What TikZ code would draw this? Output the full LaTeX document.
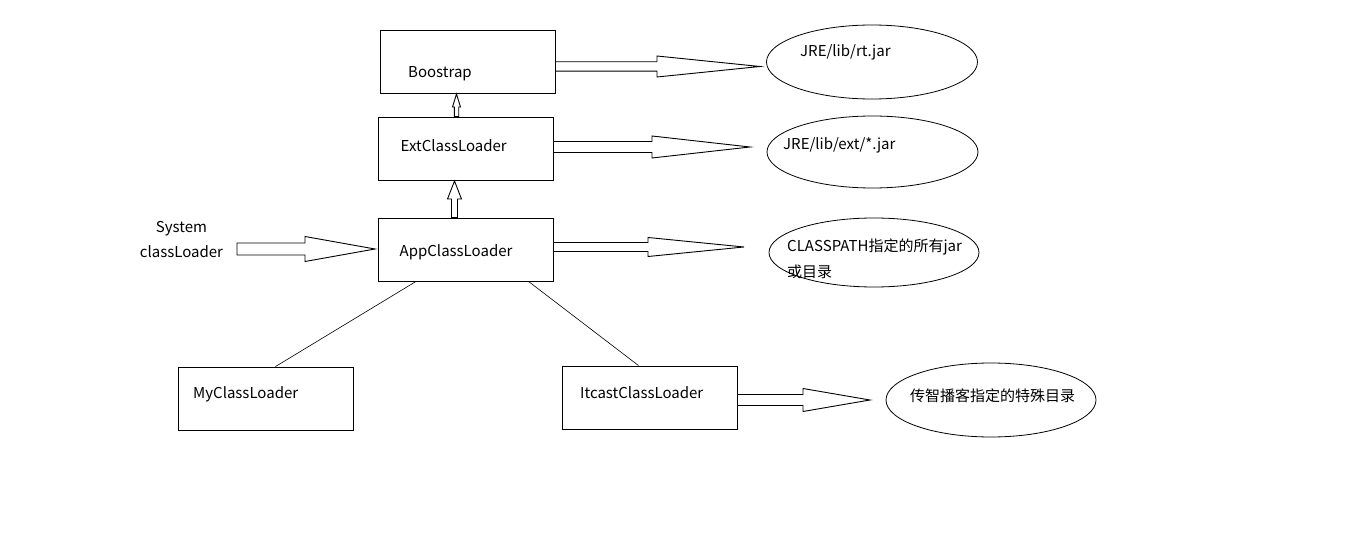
\documentclass[tikz,border=0pt]{standalone}
\usepackage{fontspec}
\setmainfont{Noto Sans CJK SC}
\usepackage{tikz}
\usetikzlibrary{calc,shapes.geometric}

% hollow block arrows, start node, tip, head length, shaft half, head half
\newcommand{\harrow}[5]{%
  \draw[blockarr] let \p1=(#1), \p2=(#2) in
    (\x1,\y2+#4) -- (\x2-#3,\y2+#4) -- (\x2-#3,\y2+#5) -- (\x2,\y2)
    -- (\x2-#3,\y2-#5) -- (\x2-#3,\y2-#4) -- (\x1,\y2-#4) -- cycle;}
\newcommand{\varrow}[5]{%
  \draw[blockarr] let \p1=(#1), \p2=(#2) in
    (\x2+#4,\y1) -- (\x2+#4,\y2-#3) -- (\x2+#5,\y2-#3) -- (\x2,\y2)
    -- (\x2-#5,\y2-#3) -- (\x2-#4,\y2-#3) -- (\x2-#4,\y1) -- cycle;}

\begin{document}
\begin{tikzpicture}
  [x=1pt, y=-1pt,
   loader/.style={draw, line width=0.9pt, minimum width=175pt, minimum height=63pt, inner sep=0},
   jar/.style={draw, ellipse, line width=0.8pt, inner sep=0},
   txt/.style={inner sep=0, anchor=base west, font=\fontsize{15}{25.5}\selectfont},
   blockarr/.style={draw, line width=0.9pt, line join=miter, fill=white}]

  \useasboundingbox (0,0) rectangle (1360,548);

  % class loader boxes
  \node[loader] (boot) at (467.5, 61.5) {};
  \node[loader] (ext) at (465.5, 148.5) {};
  \node[loader] (app) at (465.5, 249.5) {};
  \node[loader] (my) at (265.5, 398.5) {};
  \node[loader] (itcast) at (649.5, 397.5) {};

  \node[txt] (bootT) at (408, 78) {Boostrap};
  \node[txt] (extT) at (400.5, 151.5) {ExtClassLoader};
  \node[txt] (appT) at (399.5, 256) {AppClassLoader};
  \node[txt] (myT) at (193, 398) {MyClassLoader};
  \node[txt] (itcastT) at (580, 398) {ItcastClassLoader};

  % jar / directory ellipses
  \node[jar, minimum width=211pt, minimum height=74pt] (rt) at (872, 62) {};
  \node[jar, minimum width=211pt, minimum height=72pt] (extjar) at (872.5, 152) {};
  \node[jar, minimum width=210pt, minimum height=69pt] (cp) at (874, 252.5) {};
  \node[jar, minimum width=210pt, minimum height=74pt] (special) at (991, 400) {};

  \node[txt] (rtT) at (800, 57) {JRE/lib/rt.jar};
  \node[txt] (extjarT) at (783, 150) {JRE/lib/ext/*.jar};
  \node[txt, align=left] (cpT) at (787, 277) {CLASSPATH指定的所有jar\\或目录};
  \node[txt] (specialT) at (910, 401) {传智播客指定的特殊目录};

  \node[txt, anchor=base, align=center] (sys) at (181.5, 258) {System\\classLoader};

  % arrow tips
  \coordinate (rtTip) at (760, 66.5);
  \coordinate (extjarTip) at (750, 147);
  \coordinate (cpTip) at (744, 247);
  \coordinate (appTip) at (375, 249);
  \coordinate (sysTail) at (237, 249);
  \coordinate (specialTip) at (870, 400);
  \coordinate (bootUp) at (456.5, 94);
  \coordinate (extUp) at (454.5, 181);

  \harrow{boot.east}{rtTip}{103pt}{4.7pt}{10.5pt}
  \harrow{ext.east}{extjarTip}{98pt}{5.5pt}{11pt}
  \harrow{app.east}{cpTip}{96pt}{4.5pt}{9.5pt}
  \harrow{sysTail}{appTip}{70pt}{6pt}{12.5pt}
  \harrow{itcast.east}{specialTip}{67pt}{5.5pt}{11.5pt}
  \varrow{ext.north}{bootUp}{13pt}{2.2pt}{4pt}
  \varrow{app.north}{extUp}{18pt}{3pt}{7pt}

  % child loaders
  \draw[line width=0.6pt] ([xshift=-49.5pt]app.south) -- ([xshift=10pt]my.north);
  \draw[line width=0.6pt] ([xshift=63pt]app.south) -- ([xshift=-11pt]itcast.north);

\end{tikzpicture}
\end{document}
